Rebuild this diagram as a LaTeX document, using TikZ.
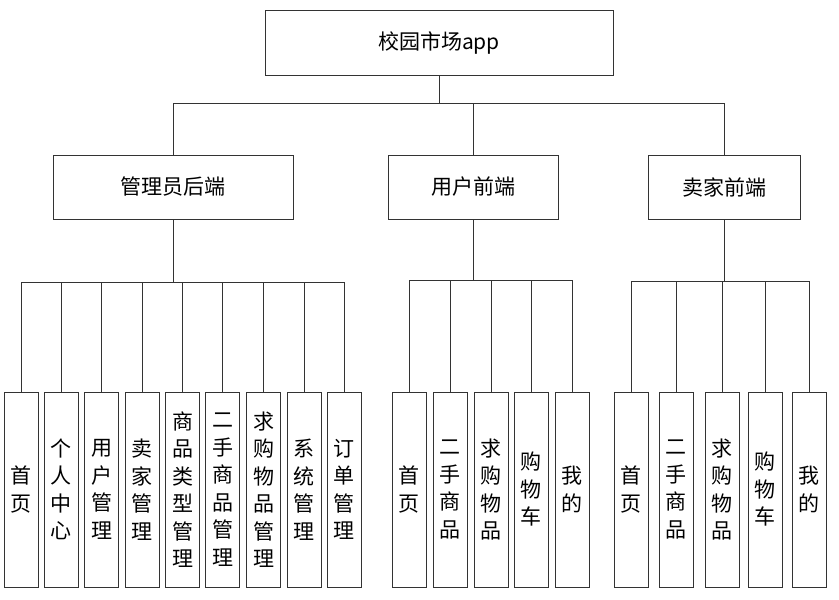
\documentclass[tikz,border=0pt]{standalone}
\usepackage{fontspec}
\setmainfont{Noto Sans CJK SC}
\begin{document}
\begin{tikzpicture}[x=1pt,y=-1pt,
  box/.style={draw=black!80,line width=0.8pt,inner sep=0pt,font=\fontsize{21}{27.5}\selectfont},
  leaf/.style={box,minimum width=34pt,minimum height=195pt,align=center}]
\useasboundingbox (0,0) rectangle (839,600);

% top levels
\node[box,minimum width=348pt,minimum height=65pt] (root) at (439,42.5) {校园市场app};
\node[box,minimum width=240pt,minimum height=64pt] (admin) at (173,187) {管理员后端};
\node[box,minimum width=170pt,minimum height=64pt] (user) at (473,187) {用户前端};
\node[box,minimum width=152pt,minimum height=64pt] (seller) at (724,187) {卖家前端};

\coordinate (bus) at (439,103);
\draw[black!80,line width=0.8pt] (root) -- (bus);
\draw[black!80,line width=0.8pt] (admin.north) |- (bus);
\draw[black!80,line width=0.8pt] (user.north) |- (bus);
\draw[black!80,line width=0.8pt] (seller.north) |- (bus);

% admin leaves
\coordinate (abus) at (173,282);
\draw[black!80,line width=0.8pt] (admin) -- (abus);
\foreach \x/\t [count=\i] in {21/首\\页, 61/个\\人\\中\\心, 101.5/用\\户\\管\\理,
    142/卖\\家\\管\\理, 182.5/商\\品\\类\\型\\管\\理, 222.5/二\\手\\商\\品\\管\\理,
    263.5/求\\购\\物\\品\\管\\理, 304/系\\统\\管\\理, 344/订\\单\\管\\理} {
  \node[leaf] (a\i) at (\x,489.5) {\t};
  \draw[black!80,line width=0.8pt] (a\i.north) |- (abus);
}

% user leaves
\coordinate (ubus) at (473,280);
\draw[black!80,line width=0.8pt] (user) -- (ubus);
\foreach \x/\t [count=\i] in {409/首\\页, 450/二\\手\\商\\品, 491/求\\购\\物\\品,
    531/购\\物\\车, 572/我\\的} {
  \node[leaf] (u\i) at (\x,489.5) {\t};
  \draw[black!80,line width=0.8pt] (u\i.north) |- (ubus);
}

% seller leaves
\coordinate (sbus) at (724,281);
\draw[black!80,line width=0.8pt] (seller) -- (sbus);
\foreach \x/\t [count=\i] in {631/首\\页, 676/二\\手\\商\\品, 722/求\\购\\物\\品,
    765/购\\物\\车, 809/我\\的} {
  \node[leaf] (s\i) at (\x,489.5) {\t};
  \draw[black!80,line width=0.8pt] (s\i.north) |- (sbus);
}
\end{tikzpicture}
\end{document}
